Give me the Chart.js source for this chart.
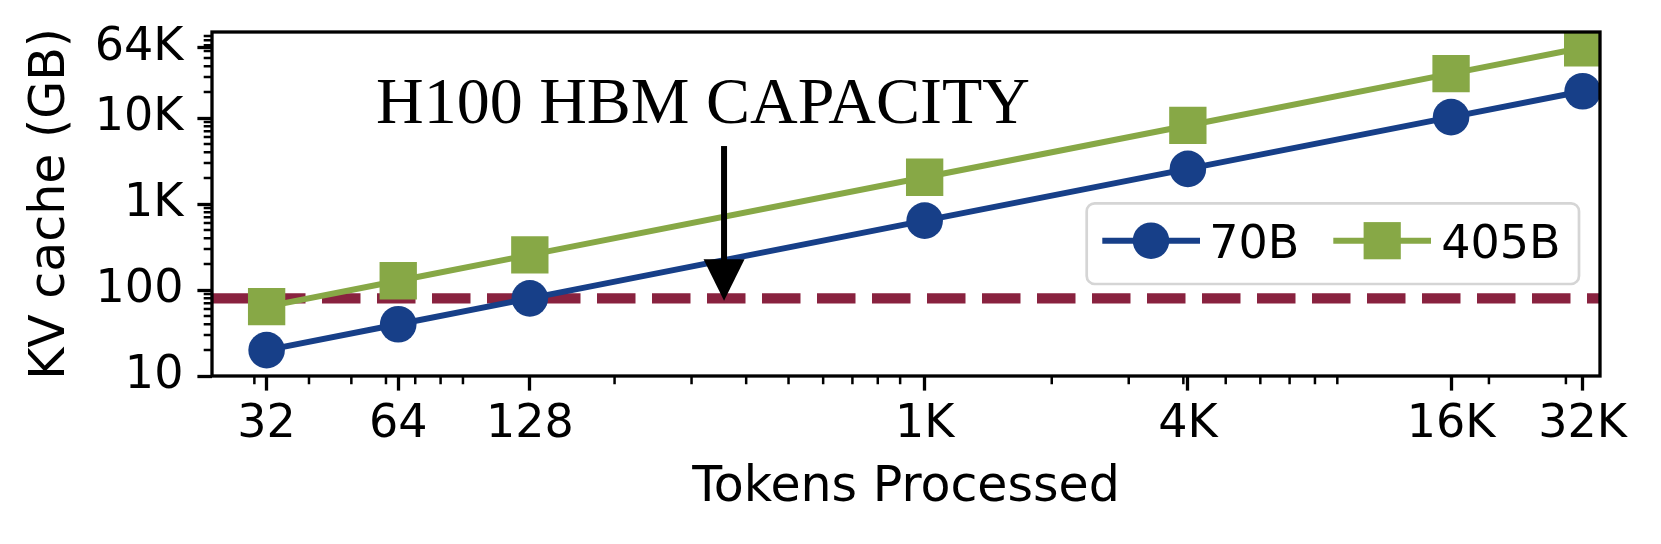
<!DOCTYPE html>
<html>
<head>
<meta charset="utf-8">
<title>KV cache vs tokens processed</title>
<script src="https://cdn.jsdelivr.net/npm/chart.js@4.4.0/dist/chart.umd.min.js"></script>
<style>
  html, body { margin: 0; padding: 0; background: #fff; }
  #wrap { width: 1661px; height: 544px; }
</style>
</head>
<body>
<div id="wrap"><canvas id="chart" width="1661" height="544"></canvas></div>
<script>
// values
var tokens = [32, 64, 128, 1024, 4096, 16384, 32768];
var kv70B = [20, 40, 80, 640, 2560, 10240, 20480];
var kv405B = [64, 128, 256, 2048, 8192, 32768, 65536];
var hbmCapacity = 80; // GB on one H100

var xTickValues = [32, 64, 128, 1024, 4096, 16384, 32768];
var xTickLabels = ['32', '64', '128', '1K', '4K', '16K', '32K'];
var yTickValues = [10, 100, 1000, 10000, 65536];
var yTickLabels = ['10', '100', '1K', '10K', '64K'];

var xRange = [24, 35900];
var yRange = [10, 100000];
var arrowTokens = 356;

var BLUE = '#173f88';
var GREEN = '#87a846';
var MAROON = '#89223f';
var LINE_W = 6;

function toPoints(xs, ys) {
    return xs.map(function (x, i) { return { x: x, y: ys[i] }; });
}

// log10 minor ticks (2..9 per decade) inside a range
function minorTicks(lo, hi) {
    var out = [];
    for (var d = 1; d <= hi; d *= 10) {
        for (var m = 2; m <= 9; m++) {
            var v = m * d;
            if (v > lo && v < hi) out.push(v);
        }
    }
    return out;
}

// minor ticks, frame, arrow annotation and legend
var extrasPlugin = {
    id: 'extras',
    afterDatasetsDraw: function (chart) {
        var ctx = chart.ctx;
        var a = chart.chartArea;
        var xs = chart.scales.x;
        var ys = chart.scales.y;
        ctx.save();

        // minor ticks
        ctx.strokeStyle = '#000';
        ctx.lineWidth = 2.5;
        ctx.beginPath();
        minorTicks(xRange[0], xRange[1]).forEach(function (v) {
            var px = xs.getPixelForValue(v);
            ctx.moveTo(px, a.bottom);
            ctx.lineTo(px, a.bottom + 8.3);
        });
        minorTicks(yRange[0], yRange[1]).forEach(function (v) {
            var py = ys.getPixelForValue(v);
            ctx.moveTo(a.left, py);
            ctx.lineTo(a.left - 8.3, py);
        });
        ctx.stroke();

        // axes frame
        ctx.lineWidth = 3.3;
        ctx.strokeRect(a.left, a.top, a.right - a.left, a.bottom - a.top);

        // annotation arrow
        var ax = xs.getPixelForValue(arrowTokens);
        var tail = ys.getPixelForValue(4720);
        var tip = ys.getPixelForValue(75);
        var headLen = 41.5, headHalf = 20.5;
        ctx.fillStyle = '#000';
        ctx.fillRect(ax - 3, tail, 6, tip - headLen - tail + 1);
        ctx.beginPath();
        ctx.moveTo(ax - headHalf, tip - headLen);
        ctx.lineTo(ax + headHalf, tip - headLen);
        ctx.lineTo(ax, tip);
        ctx.closePath();
        ctx.fill();

        ctx.font = '66px "Liberation Serif", "Times New Roman", serif';
        ctx.textAlign = 'left';
        ctx.textBaseline = 'alphabetic';
        ctx.fillText('H100 HBM CAPACITY', a.left + 164, a.top + 90.7);

        // legend
        var bx = a.right - 513.3, by = a.top + 171.3, bw = 492.3, bh = 80.7, r = 8;
        ctx.beginPath();
        ctx.moveTo(bx + r, by);
        ctx.arcTo(bx + bw, by, bx + bw, by + bh, r);
        ctx.arcTo(bx + bw, by + bh, bx, by + bh, r);
        ctx.arcTo(bx, by + bh, bx, by, r);
        ctx.arcTo(bx, by, bx + bw, by, r);
        ctx.closePath();
        ctx.fillStyle = 'rgba(255,255,255,0.8)';
        ctx.fill();
        ctx.strokeStyle = '#d5d5d5';
        ctx.lineWidth = 2.7;
        ctx.stroke();

        var rowY = a.top + 208.7;
        ctx.lineWidth = LINE_W;
        ctx.strokeStyle = BLUE;
        ctx.beginPath();
        ctx.moveTo(bx + 15.6, rowY);
        ctx.lineTo(bx + 113.3, rowY);
        ctx.stroke();
        ctx.fillStyle = BLUE;
        ctx.beginPath();
        ctx.arc(bx + 64.3, rowY, 18.3, 0, Math.PI * 2);
        ctx.fill();

        ctx.strokeStyle = GREEN;
        ctx.beginPath();
        ctx.moveTo(bx + 246.6, rowY);
        ctx.lineTo(bx + 344.3, rowY);
        ctx.stroke();
        ctx.fillStyle = GREEN;
        ctx.fillRect(bx + 295.5 - 18.6, rowY - 18.6, 37.2, 37.2);

        ctx.fillStyle = '#000';
        ctx.font = '46px "DejaVu Sans"';
        ctx.textBaseline = 'alphabetic';
        ctx.fillText('70B', bx + 122.5, by + 55);
        ctx.fillText('405B', bx + 354.5, by + 55);

        ctx.restore();
    }
};

var tickFont = { family: 'DejaVu Sans', size: 46 };
var titleFont = { family: 'DejaVu Sans', size: 49 };

new Chart(document.getElementById('chart'), {
    type: 'line',
    data: {
        datasets: [
            {
                label: '405B',
                data: toPoints(tokens, kv405B),
                borderColor: GREEN,
                backgroundColor: GREEN,
                borderWidth: LINE_W,
                pointStyle: 'rect',
                pointRadius: 26.4,
                pointBorderWidth: 0,
                tension: 0,
                clip: 0,
                order: 1
            },
            {
                label: '70B',
                data: toPoints(tokens, kv70B),
                borderColor: BLUE,
                backgroundColor: BLUE,
                borderWidth: LINE_W,
                pointStyle: 'circle',
                pointRadius: 18.3,
                pointBorderWidth: 0,
                tension: 0,
                clip: 0,
                order: 2
            },
            {
                label: 'H100 HBM',
                data: toPoints(xRange, [hbmCapacity, hbmCapacity]),
                borderColor: MAROON,
                borderWidth: 10.4,
                borderDash: [38.5, 16.5],
                borderCapStyle: 'butt',
                pointRadius: 0,
                clip: 0,
                order: 3
            }
        ]
    },
    options: {
        responsive: false,
        devicePixelRatio: 1,
        animation: false,
        events: [],
        layout: { padding: { top: 32, right: 61, left: 0, bottom: 0 } },
        plugins: {
            legend: { display: false },
            tooltip: { enabled: false }
        },
        scales: {
            x: {
                type: 'logarithmic',
                position: 'bottom',
                min: xRange[0],
                max: xRange[1],
                afterBuildTicks: function (scale) {
                    scale.ticks = xTickValues.map(function (v) { return { value: v }; });
                },
                afterFit: function (scale) {
                    scale.height = 168;
                    scale.paddingLeft = 0;
                    scale.paddingRight = 0;
                },
                ticks: {
                    autoSkip: false,
                    maxRotation: 0,
                    minRotation: 0,
                    padding: 7,
                    color: '#000',
                    font: tickFont,
                    callback: function (v, i) { return xTickLabels[i]; }
                },
                grid: {
                    display: true,
                    drawOnChartArea: false,
                    drawTicks: true,
                    tickLength: 14.6,
                    tickWidth: 3.3,
                    tickColor: '#000'
                },
                border: { display: false },
                title: {
                    display: true,
                    text: 'Tokens Processed',
                    color: '#000',
                    font: titleFont,
                    padding: { top: 0, bottom: 26 }
                }
            },
            y: {
                type: 'logarithmic',
                position: 'left',
                min: yRange[0],
                max: yRange[1],
                afterBuildTicks: function (scale) {
                    scale.ticks = yTickValues.map(function (v) { return { value: v }; });
                },
                afterFit: function (scale) {
                    scale.width = 212;
                    scale.paddingTop = 0;
                    scale.paddingBottom = 0;
                },
                ticks: {
                    autoSkip: false,
                    padding: 14,
                    color: '#000',
                    font: tickFont,
                    callback: function (v, i) { return yTickLabels[i]; }
                },
                grid: {
                    display: true,
                    drawOnChartArea: false,
                    drawTicks: true,
                    tickLength: 14.6,
                    tickWidth: 3.3,
                    tickColor: '#000'
                },
                border: { display: false },
                title: {
                    display: true,
                    text: 'KV cache (GB)',
                    color: '#000',
                    font: titleFont,
                    padding: { top: 22, bottom: 0 }
                }
            }
        }
    },
    plugins: [extrasPlugin]
});
</script>
</body>
</html>
